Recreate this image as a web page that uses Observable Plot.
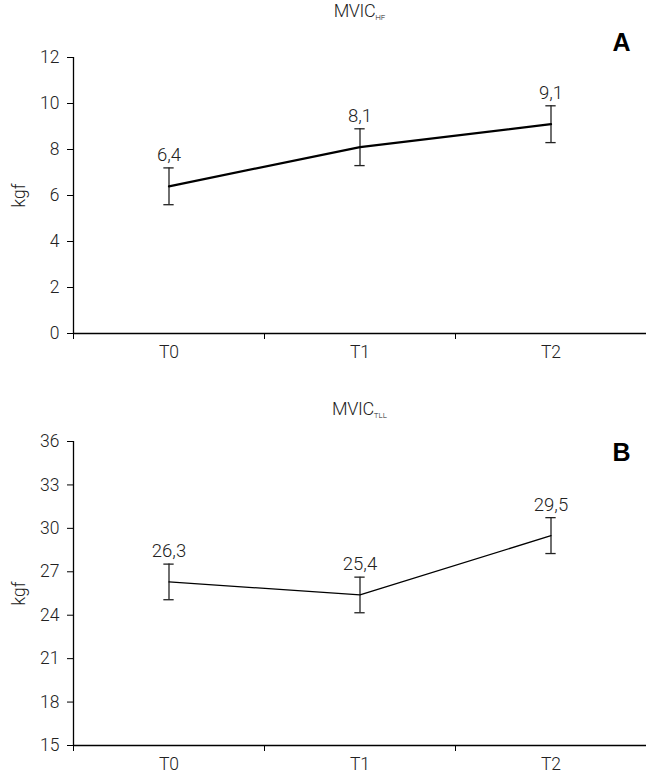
<!DOCTYPE html>
<html>
<head>
<meta charset="utf-8">
<script src="https://cdn.jsdelivr.net/npm/d3@7"></script>
<script src="https://cdn.jsdelivr.net/npm/@observablehq/plot@0.6"></script>
<style>
  body { margin: 0; background: #fff; }
  #wrap { width: 646px; font-family: Roboto, "Noto Sans", sans-serif; font-weight: 300; }
  .title { position: relative; width: 646px; color: #222; font-size: 18px; }
  .title span { position: absolute; left: 73px; right: 0; text-align: center; line-height: 20px; letter-spacing: -0.4px; }
  .title sub { font-size: 8px; vertical-align: -3px; letter-spacing: 0; }
  svg { display: block; }
</style>
</head>
<body>
<div id="wrap">
  <div class="title" style="height:28px"><span style="top:1px">MVIC<sub>HF</sub></span></div>
  <div id="panelA"></div>
  <div class="title" style="height:55px"><span style="top:29px">MVIC<sub>TLL</sub></span></div>
  <div id="panelB"></div>
</div>
<script>
const categories = ["T0", "T1", "T2"];
const meanA = [6.4, 8.1, 9.1];
const errA = [0.8, 0.8, 0.8];
const meanB = [26.3, 25.4, 29.5];
const errB = [1.23, 1.23, 1.24];
const ticksA = [0, 2, 4, 6, 8, 10, 12];
const ticksB = [15, 18, 21, 24, 27, 30, 33, 36];
const yLabel = "kgf";

const FONT = 'Roboto, "Noto Sans", sans-serif';
const fmt = v => v.toFixed(1).replace(".", ",");

function panel({means, errs, yTicks, letter, height, marginTop, marginBottom, lineWidth, letterDy}) {
  const data = categories.map((c, i) => ({cat: c, pos: i + 0.5, mean: means[i], lo: means[i] - errs[i], hi: means[i] + errs[i]}));
  const bounds = categories.map((c, i) => i);
  const cap = 0.027;
  return Plot.plot({
    width: 646, height, marginTop, marginBottom, marginLeft: 73, marginRight: 0,
    style: {fontFamily: FONT, fontSize: "17px", fontWeight: 300, color: "#222", background: "#fff", overflow: "visible"},
    x: {domain: [0, categories.length], axis: null},
    y: {domain: [yTicks[0], yTicks[yTicks.length - 1]], axis: null},
    marks: [
      Plot.axisY({ticks: yTicks, tickSize: 6, tickPadding: 8, label: null, stroke: "#000", fill: "#222", fontSize: 17.5}),
      Plot.axisX({ticks: bounds, tickSize: 6, tickFormat: () => "", label: null, stroke: "#000"}),
      Plot.axisX({ticks: data.map(d => d.pos), tickSize: 0, tickPadding: 12, tickFormat: v => categories[Math.floor(v)], label: null, fill: "#222", fontSize: 17.5}),
      Plot.ruleX([0], {stroke: "#000", strokeWidth: 1.3}),
      Plot.ruleY([yTicks[0]], {stroke: "#000", strokeWidth: 1.3}),
      Plot.text([yLabel], {frameAnchor: "left", dx: -54, rotate: -90, textAnchor: "middle", fontSize: 17.5, fill: "#222"}),
      Plot.ruleX(data, {x: "pos", y1: "lo", y2: "hi", stroke: "#222", strokeWidth: 1.3}),
      Plot.ruleY(data, {y: "hi", x1: d => d.pos - cap, x2: d => d.pos + cap, stroke: "#222", strokeWidth: 1.3}),
      Plot.ruleY(data, {y: "lo", x1: d => d.pos - cap, x2: d => d.pos + cap, stroke: "#222", strokeWidth: 1.3}),
      Plot.line(data, {x: "pos", y: "mean", stroke: "#000", strokeWidth: lineWidth}),
      Plot.text(data, {x: "pos", y: "hi", text: d => fmt(d.mean), dy: -13, fontSize: 18.5, fill: "#222"}),
      Plot.text([letter], {frameAnchor: "top-right", dx: -25, dy: letterDy, textAnchor: "middle", lineAnchor: "middle", fontSize: 25, fontWeight: "bold", fill: "#000", fontFamily: "Liberation Sans, Arial, sans-serif"})
    ]
  });
}

document.getElementById("panelA").append(panel({
  means: meanA, errs: errA, yTicks: ticksA, letter: "A",
  height: 342, marginTop: 29, marginBottom: 37, lineWidth: 2.2, letterDy: -15
}));
document.getElementById("panelB").append(panel({
  means: meanB, errs: errB, yTicks: ticksB, letter: "B",
  height: 348, marginTop: 16, marginBottom: 28, lineWidth: 1.3, letterDy: 11
}));
</script>
</body>
</html>
